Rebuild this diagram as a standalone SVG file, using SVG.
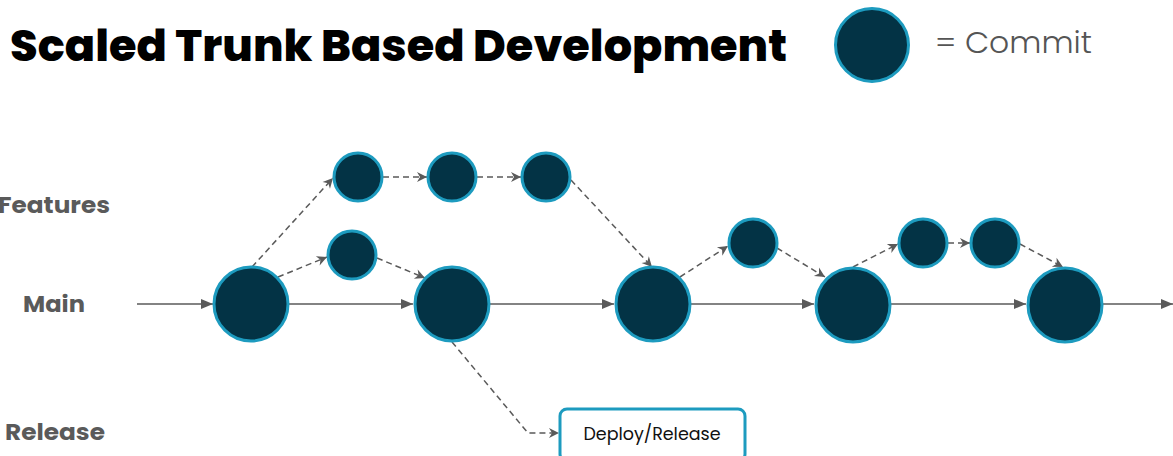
<svg xmlns="http://www.w3.org/2000/svg" width="1173" height="456" viewBox="0 0 1173 456">
<style>
.commit{fill:#033345;stroke:#1d9bbf;stroke-width:3}
.main{stroke:#5a5a5a;stroke-width:1.6;fill:none}
.dash{stroke:#5a5a5a;stroke-width:1.5;fill:none;stroke-dasharray:6 4}
.lbl{font-family:Poppins,"Inter","Liberation Sans",sans-serif;font-weight:700;font-size:23px;fill:#5a5a5a;text-anchor:middle}
</style>
<defs>
<marker id="tri" viewBox="0 0 12 10" refX="12" refY="5" markerWidth="12" markerHeight="10" markerUnits="userSpaceOnUse" orient="auto">
<path d="M0,0 L12,5 L0,10 Z" fill="#5a5a5a"/>
</marker>
<marker id="chev" viewBox="0 0 12 12" refX="11" refY="6" markerWidth="12" markerHeight="12" markerUnits="userSpaceOnUse" orient="auto">
<path d="M1,1 L11,6 L1,11 L4,6 Z" fill="#5a5a5a"/>
</marker>
</defs>
<rect width="1173" height="456" fill="#ffffff"/>
<g id="title">
<text x="10" y="61" font-family="Poppins,'Inter','Liberation Sans',sans-serif" font-weight="800" font-size="44" fill="#000" textLength="777" lengthAdjust="spacingAndGlyphs">Scaled Trunk Based Development</text>
</g>
<g id="legend">
<circle class="commit" cx="872" cy="45" r="36.5"/>
<text x="935" y="53" font-family="Poppins,'Inter','Liberation Sans',sans-serif" font-weight="300" font-size="30" fill="#555" textLength="157" lengthAdjust="spacingAndGlyphs">= Commit</text>
</g>
<g id="lane-labels">
<text class="lbl" x="54" y="213" textLength="112" lengthAdjust="spacingAndGlyphs">Features</text>
<text class="lbl" x="54" y="312" textLength="62" lengthAdjust="spacingAndGlyphs">Main</text>
<text class="lbl" x="55" y="440" textLength="100" lengthAdjust="spacingAndGlyphs">Release</text>
</g>
<g id="connectors">
<path class="main" d="M137,304 L213,304" marker-end="url(#tri)"/>
<path class="main" d="M289,304 L413,304" marker-end="url(#tri)"/>
<path class="main" d="M490,304 L614,304" marker-end="url(#tri)"/>
<path class="main" d="M691,304 L814,304" marker-end="url(#tri)"/>
<path class="main" d="M891,304 L1026,304" marker-end="url(#tri)"/>
<path class="main" d="M1103,304 L1173,304" marker-end="url(#tri)"/>
<path class="dash" d="M252,267 L333,178" marker-end="url(#chev)"/>
<path class="dash" d="M278,277 L327,257" marker-end="url(#chev)"/>
<path class="dash" d="M383,177 L427,177" marker-end="url(#chev)"/>
<path class="dash" d="M477,177 L521,177" marker-end="url(#chev)"/>
<path class="dash" d="M377,258 L425,278" marker-end="url(#chev)"/>
<path class="dash" d="M571,180 L652,267" marker-end="url(#chev)"/>
<path class="dash" d="M680,277 L728,246" marker-end="url(#chev)"/>
<path class="dash" d="M777,248 L825,277" marker-end="url(#chev)"/>
<path class="dash" d="M853,267 L898,244" marker-end="url(#chev)"/>
<path class="dash" d="M948,243 L970,243" marker-end="url(#chev)"/>
<path class="dash" d="M1020,244 L1063,267" marker-end="url(#chev)"/>
<path class="dash" d="M452,342 L528,433 L559,433" marker-end="url(#chev)"/>
</g>
<g id="main-commits">
<circle class="commit" cx="251" cy="304" r="37"/>
<circle class="commit" cx="452" cy="304" r="37"/>
<circle class="commit" cx="653" cy="304" r="37"/>
<circle class="commit" cx="853" cy="305" r="37"/>
<circle class="commit" cx="1065" cy="305" r="37"/>
</g>
<g id="feature-commits">
<circle class="commit" cx="358" cy="177" r="24"/>
<circle class="commit" cx="452" cy="177" r="24"/>
<circle class="commit" cx="546" cy="177" r="24"/>
<circle class="commit" cx="352" cy="255" r="24"/>
<circle class="commit" cx="753" cy="243" r="24"/>
<circle class="commit" cx="923" cy="243" r="24"/>
<circle class="commit" cx="995" cy="243" r="24"/>
</g>
<g id="deploy-release">
<rect x="560" y="409" width="185" height="52" rx="7" fill="#fff" stroke="#1d9bbf" stroke-width="3"/>
<text x="652" y="440" font-family="Poppins,'Inter','Liberation Sans',sans-serif" font-size="17" fill="#111" text-anchor="middle" textLength="137" lengthAdjust="spacingAndGlyphs">Deploy/Release</text>
</g>
</svg>
